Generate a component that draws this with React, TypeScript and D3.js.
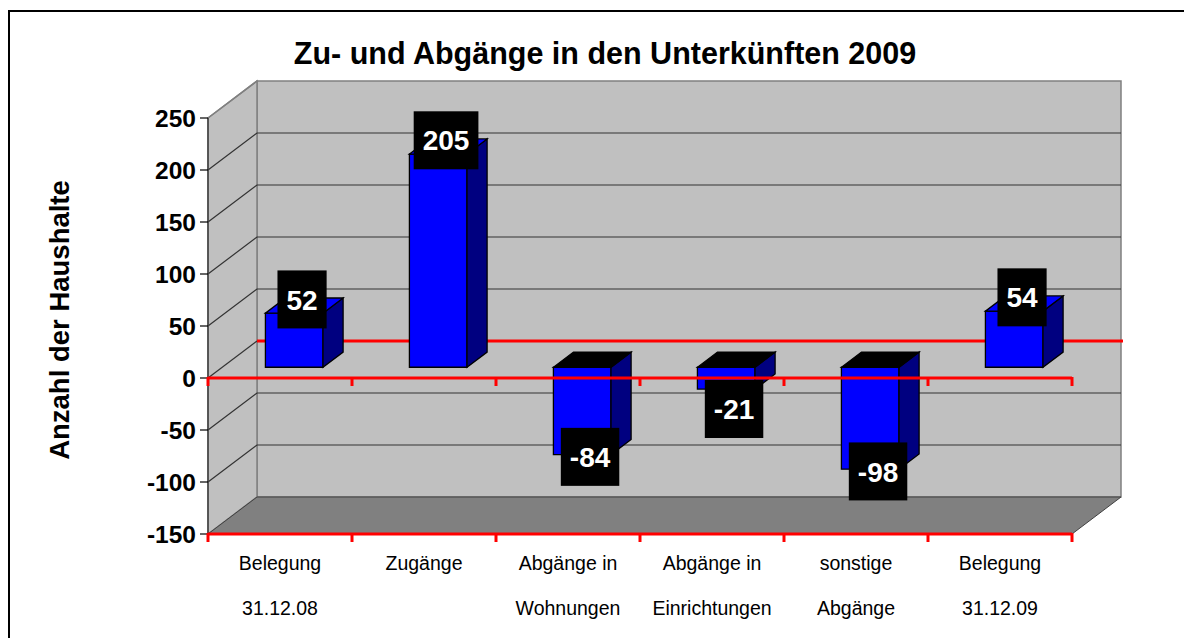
import React, { useEffect, useRef } from 'react';
import * as d3 from 'd3';

const title = 'Zu- und Abgänge in den Unterkünften 2009';
const yTitle = 'Anzahl der Haushalte';
const categories = ['b08', 'zu', 'wohn', 'einr', 'sonst', 'b09'];
const labelLine1 = ['Belegung', 'Zugänge', 'Abgänge in', 'Abgänge in', 'sonstige', 'Belegung'];
const labelLine2 = ['31.12.08', '', 'Wohnungen', 'Einrichtungen', 'Abgänge', '31.12.09'];
const values = [52, 205, -84, -21, -98, 54];
const yTicks = [-150, -100, -50, 0, 50, 100, 150, 200, 250];

const FONT = '"Liberation Sans", Arial, sans-serif';

const App: React.FC = () => {
  const svgRef = useRef<SVGSVGElement>(null);

  useEffect(() => {
    if (!svgRef.current) return;
    const svg = d3.select(svgRef.current);
    svg.selectAll('*').remove();

    const width = 1184;
    const height = 638;
    // 3D depth offset of the back wall
    const DX = 49;
    const DY = 37;
    const left = 208;
    const right = 1072;

    const y = d3.scaleLinear().domain([-150, 250]).range([534, 118]);
    const cat = d3.scaleBand<string>().domain(categories).range([left, right]);
    const bar = d3
      .scaleBand<string>()
      .domain(categories)
      .range([left, right])
      .paddingInner(0.6)
      .paddingOuter(0.3);

    const P = (x: number, v: number, d: number): [number, number] => [x + d * DX, y(v) - d * DY];
    const poly = (pts: [number, number][]) => pts.map((p) => p.join(',')).join(' ');

    svg.attr('width', width).attr('height', height);

    svg
      .append('rect')
      .attr('width', width)
      .attr('height', height)
      .attr('fill', '#fff');

    // outer frame (only top / left visible)
    svg
      .append('rect')
      .attr('x', 9)
      .attr('y', 11)
      .attr('width', 1300)
      .attr('height', 800)
      .attr('fill', 'none')
      .attr('stroke', '#000')
      .attr('stroke-width', 2);

    const yMin = -150;
    const yMax = 250;

    // back wall
    svg
      .append('polygon')
      .attr('points', poly([P(left, yMax, 1), P(right, yMax, 1), P(right, yMin, 1), P(left, yMin, 1)]))
      .attr('fill', '#c0c0c0')
      .attr('stroke', '#808080')
      .attr('stroke-width', 1.5);

    // side wall
    svg
      .append('polygon')
      .attr('points', poly([P(left, yMax, 0), P(left, yMax, 1), P(left, yMin, 1), P(left, yMin, 0)]))
      .attr('fill', '#c0c0c0')
      .attr('stroke', '#808080')
      .attr('stroke-width', 1.5);

    // floor
    svg
      .append('polygon')
      .attr('points', poly([P(left, yMin, 0), P(right, yMin, 0), P(right, yMin, 1), P(left, yMin, 1)]))
      .attr('fill', '#808080')
      .attr('stroke', '#404040')
      .attr('stroke-width', 1);

    // gridlines
    const grid = svg.append('g');
    yTicks
      .filter((t) => t !== yMin && t !== yMax && t !== 0)
      .forEach((t) => {
        grid
          .append('polyline')
          .attr('points', poly([P(left, t, 0), P(left, t, 1), P(right, t, 1)]))
          .attr('fill', 'none')
          .attr('stroke', '#333')
          .attr('stroke-width', 1.2);
      });
    grid
      .append('line')
      .attr('x1', P(left, 0, 0)[0])
      .attr('y1', P(left, 0, 0)[1])
      .attr('x2', P(left, 0, 1)[0])
      .attr('y2', P(left, 0, 1)[1])
      .attr('stroke', '#333')
      .attr('stroke-width', 1.2);
    grid
      .append('line')
      .attr('x1', P(left, yMax, 0)[0])
      .attr('y1', P(left, yMax, 0)[1])
      .attr('x2', P(left, yMax, 1)[0])
      .attr('y2', P(left, yMax, 1)[1])
      .attr('stroke', '#808080')
      .attr('stroke-width', 1.5);

    // red zero line on the back wall
    svg
      .append('line')
      .attr('x1', P(left, 0, 1)[0])
      .attr('y1', P(left, 0, 1)[1])
      .attr('x2', P(right, 0, 1)[0] + 2)
      .attr('y2', P(right, 0, 1)[1])
      .attr('stroke', '#ff0000')
      .attr('stroke-width', 3);

    // left axis
    svg
      .append('line')
      .attr('x1', left)
      .attr('x2', left)
      .attr('y1', y(yMax))
      .attr('y2', y(yMin))
      .attr('stroke', '#404040')
      .attr('stroke-width', 1.5);

    const yAxis = svg.append('g');
    yTicks.forEach((t) => {
      yAxis
        .append('line')
        .attr('x1', left - 8)
        .attr('x2', left)
        .attr('y1', y(t))
        .attr('y2', y(t))
        .attr('stroke', '#000')
        .attr('stroke-width', 1.2);
      yAxis
        .append('text')
        .attr('x', 196)
        .attr('y', y(t))
        .attr('dy', '0.36em')
        .attr('text-anchor', 'end')
        .attr('font-family', FONT)
        .attr('font-weight', 'bold')
        .attr('font-size', 24.5)
        .text(t);
    });

    // bars
    const f1 = 0.29;
    const f2 = 0.7;
    const bw = bar.bandwidth();
    const bars = svg.append('g');
    categories.forEach((c, i) => {
      const v = values[i];
      const x0 = bar(c)!;
      const x1 = x0 + bw;
      const top = Math.max(v, 0);
      bars
        .append('polygon')
        .attr('points', poly([P(x0, 0, f1), P(x1, 0, f1), P(x1, v, f1), P(x0, v, f1)]))
        .attr('fill', '#0000ff')
        .attr('stroke', '#000')
        .attr('stroke-width', 1.3);
      bars
        .append('polygon')
        .attr('points', poly([P(x1, 0, f1), P(x1, 0, f2), P(x1, v, f2), P(x1, v, f1)]))
        .attr('fill', '#000080')
        .attr('stroke', '#000')
        .attr('stroke-width', 1.3);
      bars
        .append('polygon')
        .attr('points', poly([P(x0, top, f1), P(x1, top, f1), P(x1, top, f2), P(x0, top, f2)]))
        .attr('fill', v >= 0 ? '#0000ff' : '#000')
        .attr('stroke', '#000')
        .attr('stroke-width', 1.3);
    });

    // red category axes (zero and bottom)
    const redAxis = (v: number) => {
      const g = svg.append('g');
      g.append('line')
        .attr('x1', left)
        .attr('x2', right)
        .attr('y1', y(v))
        .attr('y2', y(v))
        .attr('stroke', '#ff0000')
        .attr('stroke-width', 3);
      const ticks = categories.map((c) => cat(c)!).concat([right]);
      ticks.forEach((tx) => {
        g.append('line')
          .attr('x1', tx)
          .attr('x2', tx)
          .attr('y1', y(v) - 1)
          .attr('y2', y(v) + 8)
          .attr('stroke', '#ff0000')
          .attr('stroke-width', 3);
      });
    };
    redAxis(0);
    redAxis(yMin);

    // category labels
    categories.forEach((c, i) => {
      const cx = cat(c)! + cat.bandwidth() / 2;
      [labelLine1[i], labelLine2[i]].forEach((line, j) => {
        svg
          .append('text')
          .attr('x', cx)
          .attr('y', 570 + j * 45)
          .attr('text-anchor', 'middle')
          .attr('font-family', FONT)
          .attr('font-size', 19.5)
          .text(line);
      });
    });

    // data labels
    const boxH = 58;
    categories.forEach((c, i) => {
      const v = values[i];
      const cx = bar(c)! + bw / 2 + 0.45 * DX;
      let cy = y(v) - 0.5 * DY;
      if (v >= 0) cy -= 6;
      else cy = Math.max(cy + 10, y(0) + 2 + boxH / 2);
      const g = svg.append('g');
      const rect = g.append('rect').attr('fill', '#000');
      const txt = g
        .append('text')
        .attr('x', cx)
        .attr('y', cy)
        .attr('dy', '0.36em')
        .attr('text-anchor', 'middle')
        .attr('font-family', FONT)
        .attr('font-weight', 'bold')
        .attr('font-size', 28)
        .attr('fill', '#fff')
        .text(v);
      const w = (txt.node() as SVGTextElement).getComputedTextLength() + 18;
      rect
        .attr('x', cx - w / 2)
        .attr('y', cy - boxH / 2)
        .attr('width', w)
        .attr('height', boxH);
    });

    // title
    svg
      .append('text')
      .attr('x', 605)
      .attr('y', 64)
      .attr('text-anchor', 'middle')
      .attr('font-family', FONT)
      .attr('font-weight', 'bold')
      .attr('font-size', 30.5)
      .text(title);

    // y axis title
    svg
      .append('text')
      .attr('transform', 'translate(69,320) rotate(-90)')
      .attr('text-anchor', 'middle')
      .attr('font-family', FONT)
      .attr('font-weight', 'bold')
      .attr('font-size', 27.5)
      .text(yTitle);
  }, []);

  return (
    <svg
      ref={svgRef}
      style={{ position: 'absolute', left: 0, top: 0, display: 'block' }}
    ></svg>
  );
};

export default App;
